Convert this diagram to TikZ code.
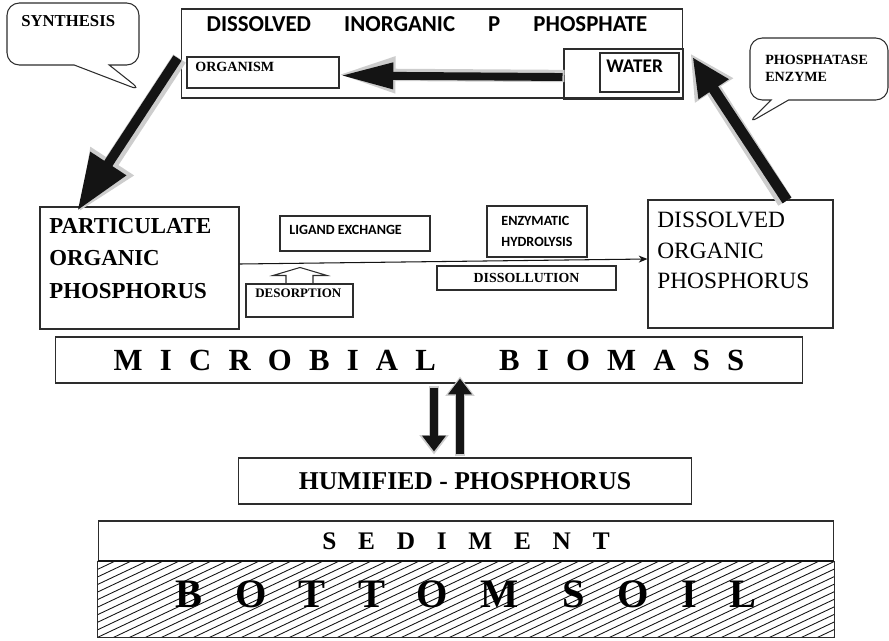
\documentclass[tikz,border=0pt]{standalone}
\usepackage{fontspec}
\setmainfont{Liberation Serif}
\newfontfamily\calib{Carlito}
\usetikzlibrary{arrows.meta,calc,shapes.callouts}
\definecolor{linegray}{RGB}{45,45,45}
\definecolor{shadowgray}{RGB}{205,205,205}
\definecolor{inkblack}{RGB}{20,20,20}
\tikzset{
    box/.style={draw=linegray, line width=0.6pt, inner sep=0pt},
    outline/.style={draw=linegray, line width=0.6pt},
    word/.style={inner sep=0pt, align=left},
    callout/.style={rectangle callout, draw=linegray, line width=0.6pt,
        rounded corners=7pt, inner sep=0pt},
    heavy/.style n args={3}{draw=inkblack, line width=#1,
        -{Triangle[length=#2, width=#3]}},
    ghost/.style n args={3}{draw=shadowgray, line width=#1,
        -{Triangle[length=#2, width=#3]}},
    flow/.style={draw=inkblack, line width=0.6pt, -{Stealth[length=5pt, width=4pt]}},
    hatchline/.style={draw=inkblack, line width=0.5pt}
}
\begin{document}
\begin{tikzpicture}[x=0.02cm, y=-0.02cm]
    \useasboundingbox (0,0) rectangle (889,640);

    % Dissolved inorganic phosphate
    \node[box, minimum width=10.04cm, minimum height=1.78cm] (dip) at (432,53.5) {};
    \node[word, font=\calib\bfseries\fontsize{13}{15}\selectfont] (diptitle) at (427,24)
          {DISSOLVED\hspace{1.45em}INORGANIC\hspace{1.45em}P\hspace{1.45em}PHOSPHATE};
    \node[box, minimum width=3.04cm, minimum height=0.62cm] (organism) at (263,72.5) {};
    \node[word, anchor=west, font=\bfseries\fontsize{8}{9}\selectfont] (orgtext) at (195,66.5) {ORGANISM};
    \node[box, minimum width=2.38cm, minimum height=1cm] (wbox) at (623.5,74) {};
    \node[box, minimum width=1.58cm, minimum height=0.78cm] (water) at (639.5,72.5) {};
    \node[word, anchor=west, font=\calib\bfseries\fontsize{11}{13}\selectfont] (watertext) at (606,66.5) {WATER};

    % Callouts
    \node[callout, minimum width=2.64cm, minimum height=1.24cm,
          callout absolute pointer={(142,91)}, callout pointer width=0.7cm] (synth) at (73,34) {};
    \node[word, anchor=north west, font=\bfseries\fontsize{9.5}{11}\selectfont] (synthtext) at (21,15) {SYNTHESIS};
    \node[callout, minimum width=2.76cm, minimum height=1.24cm,
          callout absolute pointer={(747,124)}, callout pointer width=0.35cm] (enzcall) at (819,69) {};
    \node[word, anchor=north west, font=\bfseries\fontsize{8}{9.5}\selectfont] (enztext) at (765,55)
          {PHOSPHATASE\\ENZYME};

    % Organic phosphorus pools
    \node[box, minimum width=3.98cm, minimum height=2.44cm] (pop) at (139.5,268) {};
    \node[word, anchor=north west, font=\bfseries\fontsize{13}{18.5}\selectfont] (poptext) at (49,218)
          {PARTICULATE\\ORGANIC\\PHOSPHORUS};
    \node[box, minimum width=3.7cm, minimum height=2.56cm] (dop) at (740.5,264) {};
    \node[word, anchor=north west, font=\fontsize{13.3}{17.4}\selectfont] (doptext) at (657,212)
          {DISSOLVED\\ORGANIC\\PHOSPHORUS};

    % Processes
    \node[box, minimum width=3cm, minimum height=0.7cm] (ligand) at (355,233.5) {};
    \node[word, anchor=west, font=\calib\bfseries\fontsize{8}{10}\selectfont] (ligtext) at (289,230) {LIGAND EXCHANGE};
    \node[box, minimum width=2cm, minimum height=1.02cm, align=left,
          font=\calib\bfseries\fontsize{8}{12}\selectfont] (enzym) at (537,231.5) {ENZYMATIC\\HYDROLYSIS};
    \node[box, minimum width=2.14cm, minimum height=0.66cm] (desorp) at (299.5,300.5) {};
    \node[word, anchor=west, font=\bfseries\fontsize{7.4}{9}\selectfont] (destext) at (255,293.5) {DESORPTION};
    \node[box, minimum width=3.58cm, minimum height=0.48cm,
          font=\bfseries\fontsize{7.9}{9}\selectfont] (dissol) at (526.5,278) {DISSOLLUTION};
    \draw[outline] ([shift={(-13.5,0)}]desorp.north) -- ++(0,-8) -- ++(-13,0) -- ++(27,-8)
          -- ++(27,8) -- ++(-14,0) -- ++(0,8);

    % Microbial biomass and sediment
    \node[box, minimum width=14.96cm, minimum height=0.92cm,
          font=\bfseries\fontsize{17.5}{20}\selectfont\addfontfeature{LetterSpace=56}] (mb) at (429,360)
          {MICROBIAL\hspace{36pt}BIOMASS};
    \node[box, minimum width=9.08cm, minimum height=0.92cm,
          font=\bfseries\fontsize{14.6}{17}\selectfont] (hum) at (465,481) {HUMIFIED - PHOSPHORUS};
    \node[box, minimum width=14.72cm, minimum height=0.8cm,
          font=\bfseries\fontsize{14.4}{17}\selectfont\addfontfeature{LetterSpace=86}] (sed) at (466,541) {SEDIMENT};
    \node[inner sep=0pt, minimum width=14.72cm, minimum height=1.52cm] (soil) at (466,599) {};
    \begin{scope}
        \clip (soil.south west) rectangle (soil.north east);
        \foreach \x in {-100,-84,...,840}
            \draw[hatchline] (\x,640) -- ++(180,-85);
    \end{scope}
    \draw[outline] (soil.north west) -- (soil.south west) -- (soil.south east) -- (soil.north east);
    \draw[draw=inkblack, line width=1.3pt] (soil.north west) -- (soil.north east);
    \node[word, font=\bfseries\fontsize{23}{26}\selectfont\addfontfeature{LetterSpace=80}] (soiltext) at (466,594)
          {BOTTOM\hspace{25pt}SOIL};

    % Arrows
    \draw[flow] ([shift={(0,-4)}]pop.east) -- ([shift={(0,-5)}]dop.west);
    \draw[ghost={7pt}{33pt}{19pt}] ([shift={(1,2)}]wbox.west) -- ([shift={(-2,2)}]organism.east);
    \draw[heavy={4.5pt}{30pt}{14pt}] ([shift={(-1,3)}]wbox.west) -- ([shift={(1,3)}]organism.east);
    \draw[ghost={8.5pt}{35pt}{27pt}] ([shift={(-1,5)}]dip.west) -- ([shift={(39,6)}]pop.north west);
    \draw[heavy={5.5pt}{32pt}{23pt}] ([shift={(-3,4.5)}]dip.west) -- ([shift={(38,4)}]pop.north west);
    \draw[ghost={9pt}{25pt}{24pt}] ([shift={(44.5,2)}]dop.north) -- ([shift={(7,0)}]dip.east);
    \draw[heavy={6pt}{22pt}{19pt}] ([shift={(46.5,1)}]dop.north) -- ([shift={(9,3.5)}]dip.east);
    \draw[ghost={6pt}{11pt}{16pt}] ([shift={(5,2)}]mb.south) -- ([shift={(-31,-3)}]hum.north);
    \draw[heavy={4pt}{9pt}{13pt}] ([shift={(5,4)}]mb.south) -- ([shift={(-31,-6)}]hum.north);
    \draw[ghost={6pt}{11pt}{16pt}] ([shift={(-5,-1)}]hum.north) -- ([shift={(31,-7)}]mb.south);
    \draw[heavy={4pt}{9pt}{13pt}] ([shift={(-5,-3)}]hum.north) -- ([shift={(31,-5)}]mb.south);
\end{tikzpicture}
\end{document}
